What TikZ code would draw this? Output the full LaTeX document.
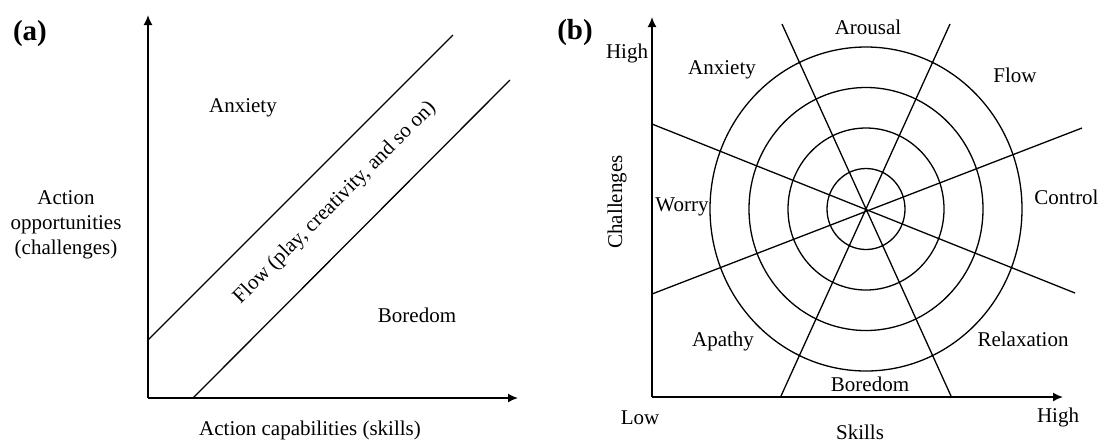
\documentclass[tikz,border=0pt]{standalone}
\usepackage{fontspec}
\setmainfont{Liberation Serif}
\usetikzlibrary{arrows.meta, positioning}
\tikzstyle{txt} = [font=\fontsize{10.5}{12.5}\selectfont, inner sep=0pt, align=center]
\tikzstyle{panel} = [font=\fontsize{14.5}{16}\selectfont\bfseries, inner sep=0pt]
\tikzstyle{axis} = [-{Latex[length=5pt, width=4.5pt]}, line width=0.8pt]
\tikzstyle{ray} = [line width=0.65pt]

\begin{document}
\begin{tikzpicture}[x=0.5pt, y=-0.5pt]
	\useasboundingbox (0,0) rectangle (1098,441);
	
	% (a) flow channel
	\coordinate (Ao) at (148,398);
	\coordinate (Ay) at (148,15);
	\coordinate (Ax) at (518,398);
	\coordinate (up1) at (148,340);
	\coordinate (up2) at (453,35);
	\coordinate (lo1) at (193,398);
	\coordinate (lo2) at (510,80);
	
	\draw[axis] (Ao) -- (Ay);
	\draw[axis] (Ao) -- (Ax);
	\draw[ray] (up1) -- (up2);
	\draw[ray] (lo1) -- (lo2);
	
	\node[panel] (pa) at (30,34) {(a)};
	\node[txt] (anxA) at (243,108) {Anxiety};
	\node[txt] (borA) at (417,315) {Boredom};
	\node[txt, rotate=45] (flowA) at (335,203) {Flow (play, creativity, and so on)};
	\node[txt] (opp) at (66,225) {Action\\ opportunities\\ (challenges)};
	\node[txt] (cap) at (310,430) {Action capabilities (skills)};
	
	% (b) eight-channel model
	\coordinate (Bo) at (652,397);
	\coordinate (By) at (652,17);
	\coordinate (Bx) at (1063,397);
	\coordinate (C) at (866,209);
	
	\draw[axis] (Bo) -- (By);
	\draw[axis] (Bo) -- (Bx);
	\foreach \r in {1,2,3,4}
		\draw[ray] (C) ellipse [x radius=39*\r, y radius=40.5*\r];
	
	% Edges
	\draw[ray] (782,24) -- (951,396);
	\draw[ray] (950,24) -- (781,396);
	\draw[ray] (652,124) -- (1075,293);
	\draw[ray] (652,294) -- (1082,128);
	
	\node[panel] (pb) at (575,33) {(b)};
	\node[txt] (hiY) at (627,53) {High};
	\node[txt] (loX) at (640,418) {Low};
	\node[txt] (hiX) at (1058,417) {High};
	\node[txt, rotate=90] (chal) at (617,202) {Challenges};
	\node[txt, anchor=base] (skl) at (860,439) {Skills};
	
	\node[txt] (arou) at (868,27) {Arousal};
	\node[txt] (flowB) at (1015,75) {Flow};
	\node[txt, anchor=west] (ctrl) at (1034,197) {Control};
	\node[txt] (relx) at (1023,339) {Relaxation};
	\node[txt] (borB) at (870,384) {Boredom};
	\node[txt] (apat) at (723,341) {Apathy};
	\node[txt] (worr) at (682,207) {Worry};
	\node[txt] (anxB) at (722,70) {Anxiety};
	
\end{tikzpicture}
\end{document}
